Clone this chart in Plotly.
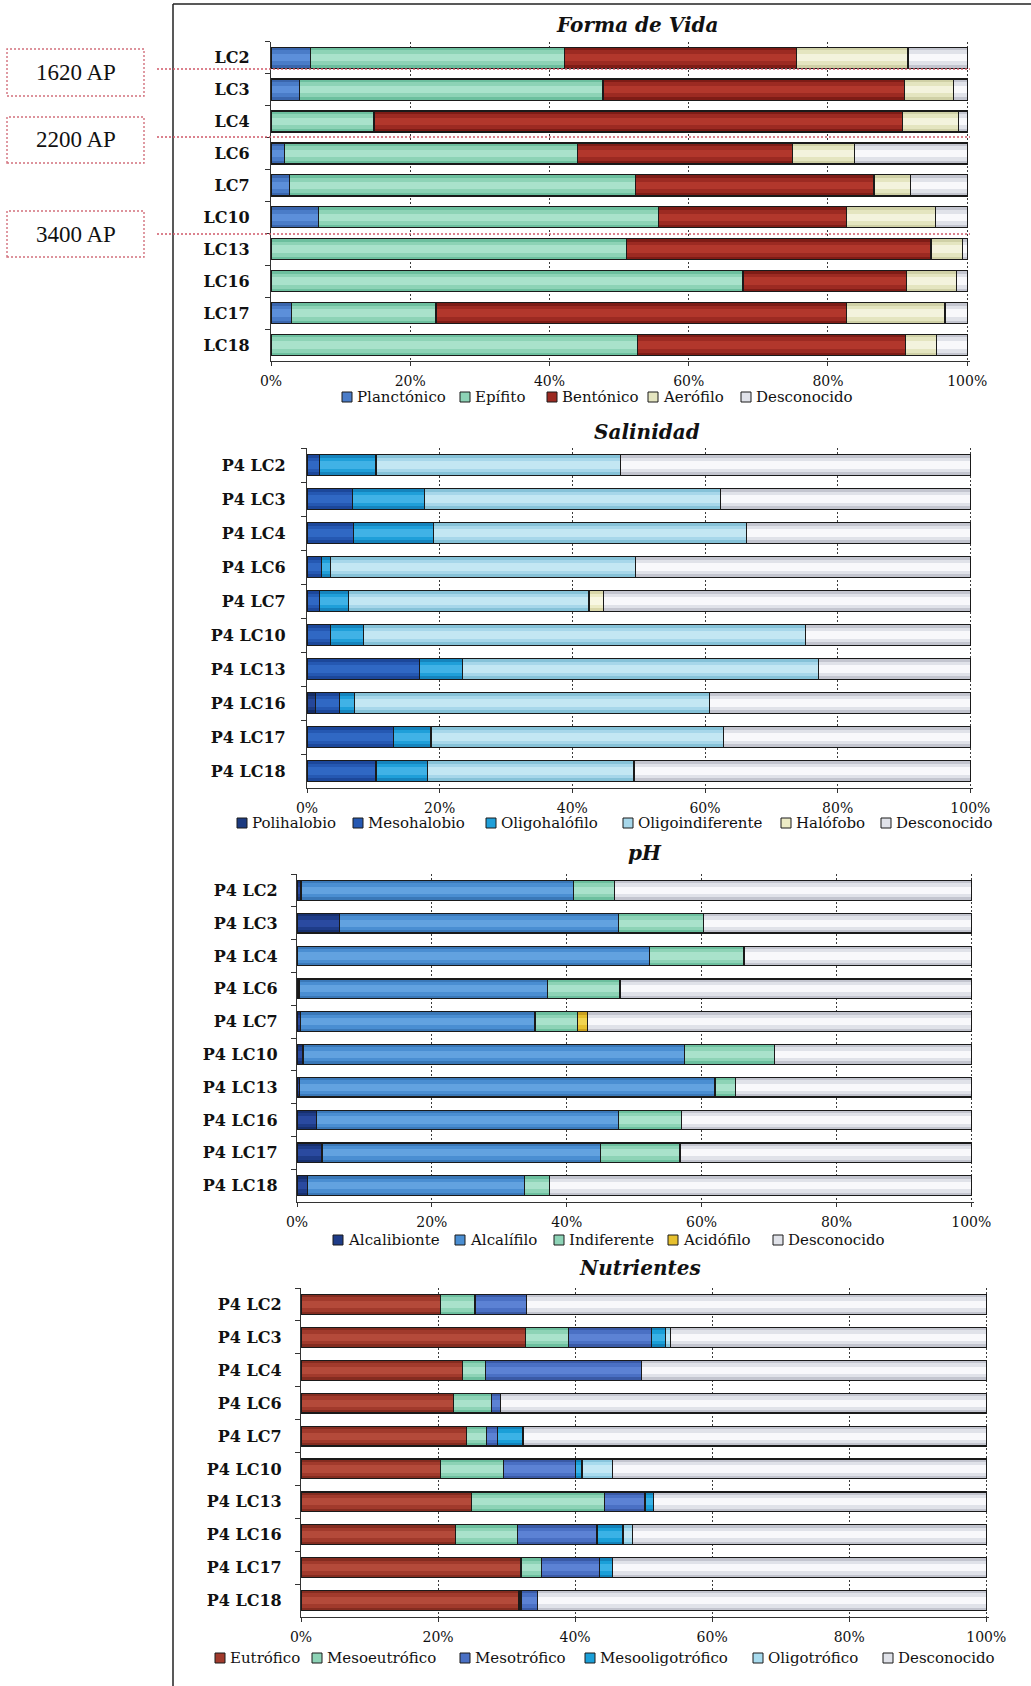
import plotly.graph_objects as go

W, H = 1031, 1686

# ---------------- data ----------------
# Forma de Vida
vida_cats = ["LC2", "LC3", "LC4", "LC6", "LC7", "LC10", "LC13", "LC16", "LC17", "LC18"]
planctonico = [5.7, 4.1, 0, 1.9, 2.7, 6.8, 0, 0, 3.0, 0]
epifito = [36.5, 43.6, 14.8, 42.1, 49.6, 48.8, 51.1, 67.8, 20.7, 52.6]
bentonico = [33.3, 43.3, 75.9, 30.9, 34.3, 27.1, 43.7, 23.5, 59.0, 38.5]
aerofilo = [16.0, 7.0, 8.1, 8.9, 5.3, 12.7, 4.5, 7.2, 14.1, 4.5]
desconocido_vida = [8.5, 2.0, 1.2, 16.2, 8.1, 4.6, 0.7, 1.5, 3.2, 4.4]

# Salinidad / pH / Nutrientes share the same samples
muestras = ["P4 LC2", "P4 LC3", "P4 LC4", "P4 LC6", "P4 LC7",
            "P4 LC10", "P4 LC13", "P4 LC16", "P4 LC17", "P4 LC18"]

polihalobio = [0, 0, 0, 0, 0, 0, 0, 1.3, 0, 0]
mesohalobio = [1.9, 6.8, 7.0, 2.2, 1.9, 3.6, 16.9, 3.6, 13.0, 10.4]
oligohalofilo = [8.5, 10.9, 12.1, 1.4, 4.4, 4.9, 6.6, 2.3, 5.7, 7.8]
oligoindiferente = [36.8, 44.6, 47.1, 45.9, 36.2, 66.7, 53.6, 53.5, 44.1, 31.1]
halofobo = [0, 0, 0, 0, 2.2, 0, 0, 0, 0, 0]
desconocido_sal = [52.8, 37.7, 33.8, 50.5, 55.3, 24.8, 22.9, 39.3, 37.2, 50.7]

alcalibionte = [0.6, 6.3, 0, 0.3, 0.5, 0.9, 0.4, 2.9, 3.7, 1.5]
alcalifilo = [40.4, 41.4, 52.3, 36.8, 34.8, 56.6, 61.6, 44.8, 41.3, 32.2]
indiferente = [6.1, 12.6, 14.0, 10.8, 6.3, 13.3, 3.0, 9.3, 11.8, 3.7]
acidofilo = [0, 0, 0, 0, 1.5, 0, 0, 0, 0, 0]
desconocido_ph = [52.9, 39.7, 33.7, 52.1, 56.9, 29.2, 35.0, 43.0, 43.2, 62.6]

eutrofico = [20.4, 32.8, 23.6, 22.2, 24.2, 20.3, 24.9, 22.6, 32.1, 31.8]
mesoeutrofico = [5.0, 6.2, 3.3, 5.6, 2.9, 9.3, 19.4, 9.0, 3.0, 0.3]
mesotrofico = [7.5, 12.2, 22.8, 1.3, 1.6, 10.5, 5.9, 11.6, 8.5, 2.4]
mesooligotrofico = [0, 2.0, 0, 0, 3.7, 0.9, 1.2, 3.8, 1.9, 0]
oligotrofico = [0, 0.7, 0, 0, 0, 4.4, 0, 1.4, 0, 0]
desconocido_nut = [67.1, 46.1, 50.3, 70.9, 67.6, 54.6, 48.6, 51.6, 54.5, 65.5]

x_ticks = [0, 20, 40, 60, 80, 100]
x_ticktext = ["0%", "20%", "40%", "60%", "80%", "100%"]

# ---------------- colours: (edge, mid, centre) of each shaded bar ----------------
MINT = ("#6cbf9e", "#8dd3b6", "#a9e2cb")
UNK = ("#c3c5cf", "#e0e2e9", "#f8f8fb")
PAL = {
    "Planctónico": ("#3a66ad", "#4a7cc8", "#5c8fda"),
    "Epífito": MINT,
    "Bentónico": ("#7e1c16", "#9c2a22", "#b2372c"),
    "Aerófilo": ("#cfd0a6", "#e4e5c0", "#f3f3dd"),
    "Polihalobio": ("#142c66", "#1c3a80", "#25479a"),
    "Mesohalobio": ("#1c479a", "#2558b2", "#3068c4"),
    "Oligohalófilo": ("#1584bd", "#1f9fd9", "#40b2e6"),
    "Oligoindiferente": ("#86c2d8", "#a7d7ea", "#c3e7f3"),
    "Halófobo": ("#d8d6a8", "#ecebc6", "#f8f7e2"),
    "Alcalibionte": ("#17306e", "#1e3c88", "#2a4aa0"),
    "Alcalífilo": ("#3a78b8", "#4a8ed2", "#62a2e0"),
    "Indiferente": MINT,
    "Acidófilo": ("#c9a020", "#e6c02e", "#f2d450"),
    "Eutrófico": ("#842c20", "#a13a2c", "#b44a3a"),
    "Mesoeutrófico": MINT,
    "Mesotrófico": ("#3a5aa6", "#4a70c4", "#5c82d4"),
    "Mesooligotrófico": ("#1282ba", "#1a9fd8", "#3ab2e6"),
    "Oligotrófico": ("#88c4dc", "#a8dbee", "#c4e8f5"),
    "Desconocido": UNK,
}

panels = [
    dict(title="Forma de Vida", cats=vida_cats, bw=0.66,
         series=[("Planctónico", planctonico), ("Epífito", epifito),
                 ("Bentónico", bentonico), ("Aerófilo", aerofilo),
                 ("Desconocido", desconocido_vida)],
         xpx=(271, 970), ypx=(41.7, 361), title_at=(637, 25), standoff=17,
         leg_y=397, leg_x=[342, 460, 547, 648, 741]),
    dict(title="Salinidad", cats=muestras, bw=0.61,
         series=[("Polihalobio", polihalobio), ("Mesohalobio", mesohalobio),
                 ("Oligohalófilo", oligohalofilo),
                 ("Oligoindiferente", oligoindiferente),
                 ("Halófobo", halofobo), ("Desconocido", desconocido_sal)],
         xpx=(307, 973), ypx=(448, 788), title_at=(647, 432), standoff=17,
         leg_y=823, leg_x=[237, 353, 486, 623, 781, 881]),
    dict(title="pH", cats=muestras, bw=0.6,
         series=[("Alcalibionte", alcalibionte), ("Alcalífilo", alcalifilo),
                 ("Indiferente", indiferente), ("Acidófilo", acidofilo),
                 ("Desconocido", desconocido_ph)],
         xpx=(297, 974), ypx=(874, 1202), title_at=(645, 853), standoff=15,
         leg_y=1240, leg_x=[333, 455, 554, 668, 773]),
    dict(title="Nutrientes", cats=muestras, bw=0.6,
         series=[("Eutrófico", eutrofico), ("Mesoeutrófico", mesoeutrofico),
                 ("Mesotrófico", mesotrofico),
                 ("Mesooligotrófico", mesooligotrofico),
                 ("Oligotrófico", oligotrofico), ("Desconocido", desconocido_nut)],
         xpx=(301, 989), ypx=(1288, 1617), title_at=(640, 1268), standoff=15,
         leg_y=1658, leg_x=[215, 312, 460, 585, 753, 883]),
]


def px(x):
    return x / W


def py(y):
    return 1 - y / H


SERIF = "DejaVu Serif"
EDGE = "#1a1a1a"
AXIS = "#333333"
XRANGE = [0, 100.4]

fig = go.Figure()
shapes, annotations = [], []
layout_axes = {}

for i, p in enumerate(panels, start=1):
    sx = "" if i == 1 else str(i)
    xa, ya = "x" + sx, "y" + sx
    bw = p["bw"]

    # shaded stacked bars: edge tone underneath, lighter mid and centre
    # bands on overlaid axes, then the black outlines on top
    layers = [(xa, ya, 1.0, "edge")]
    for k, (frac, kind) in enumerate([(0.72, "mid"), (0.36, "centre"), (1.0, "outline")], start=1):
        n = 4 + (i - 1) * 3 + k
        layers.append(("x%d" % n, "y%d" % n, frac, kind))
        layout_axes["xaxis%d" % n] = dict(overlaying=xa, anchor="y%d" % n,
                                          range=XRANGE, visible=False, showgrid=False,
                                          fixedrange=True, automargin=False)
        layout_axes["yaxis%d" % n] = dict(overlaying=ya, anchor="x%d" % n,
                                          type="category", autorange="reversed",
                                          visible=False, showgrid=False,
                                          fixedrange=True, automargin=False)

    for lx_, ly_, frac, kind in layers:
        for name, vals in p["series"]:
            edge, mid, centre = PAL[name]
            if kind == "outline":
                marker = dict(color="rgba(0,0,0,0)", line=dict(color=EDGE, width=1.2))
            else:
                col = {"edge": edge, "mid": mid, "centre": centre}[kind]
                marker = dict(color=col, line=dict(width=0))
            trace = dict(
                y=p["cats"], x=[v if v else None for v in vals], orientation="h",
                name=name, width=bw * frac, xaxis=lx_, yaxis=ly_, showlegend=False,
                marker=marker,
            )
            if kind == "edge":
                trace["hovertemplate"] = name + ": %{x:.1f}%<extra>%{y}</extra>"
            else:
                trace["hoverinfo"] = "skip"
            fig.add_trace(go.Bar(**trace))

    layout_axes["xaxis" + sx] = dict(
        domain=[px(p["xpx"][0]), px(p["xpx"][1])], anchor=ya,
        range=XRANGE, tickmode="array", tickvals=x_ticks, ticktext=x_ticktext,
        showgrid=True, gridcolor="#3a3a3a", griddash="2px,2px", gridwidth=1.4,
        zeroline=False, showline=True, linecolor=AXIS, linewidth=1.2,
        ticks="outside", ticklen=4, tickcolor=AXIS, tickwidth=1.2,
        tickfont=dict(family=SERIF, size=14, color="#111111"),
        ticklabelstandoff=3, fixedrange=True, automargin=False,
    )
    layout_axes["yaxis" + sx] = dict(
        domain=[py(p["ypx"][1]), py(p["ypx"][0])], anchor=xa,
        type="category", autorange="reversed",
        showgrid=False, zeroline=False, showline=True,
        linecolor=AXIS, linewidth=1.2,
        ticks="outside", tickson="boundaries", ticklen=5, tickcolor=AXIS, tickwidth=1.2,
        tickfont=dict(family=SERIF, size=16, color="#111111", weight="bold"),
        ticklabelstandoff=p["standoff"], fixedrange=True, automargin=False,
    )

    # panel title
    tx, ty = p["title_at"]
    annotations.append(dict(
        x=px(tx), y=py(ty), xref="paper", yref="paper", showarrow=False,
        text="<b><i>%s</i></b>" % p["title"], xanchor="center", yanchor="middle",
        font=dict(family=SERIF, size=20, color="#111111"),
    ))

    # legend row: swatch + label
    for (name, vals), lx in zip(p["series"], p["leg_x"]):
        ly = p["leg_y"]
        shapes.append(dict(
            type="rect", xref="paper", yref="paper",
            x0=px(lx), x1=px(lx + 10), y0=py(ly + 5), y1=py(ly - 5),
            fillcolor=PAL[name][1], line=dict(color=EDGE, width=1),
        ))
        annotations.append(dict(
            x=px(lx + 13), y=py(ly), xref="paper", yref="paper", showarrow=False,
            text=name, xanchor="left", yanchor="middle",
            font=dict(family=SERIF, size=15, color="#111111"),
        ))

# frame around the figure block (left and top edges)
shapes.append(dict(type="line", xref="paper", yref="paper",
                   x0=px(173), x1=px(173), y0=py(4), y1=0,
                   line=dict(color="#222222", width=1.5)))
shapes.append(dict(type="line", xref="paper", yref="paper",
                   x0=px(173), x1=1, y0=py(4), y1=py(4),
                   line=dict(color="#222222", width=1.5)))

# age boxes and their dotted guide lines across the first panel
edades = ["1620 AP", "2200 AP", "3400 AP"]
box_rows = [(49, 96), (117, 163), (211, 257)]
guide_y = [69, 137, 234]
for label, (b0, b1), gy in zip(edades, box_rows, guide_y):
    shapes.append(dict(type="rect", xref="paper", yref="paper",
                       x0=px(7), x1=px(144), y0=py(b1), y1=py(b0),
                       fillcolor="white",
                       line=dict(color="#d2707c", width=1.4, dash="2px,2px")))
    shapes.append(dict(type="line", xref="paper", yref="paper",
                       x0=px(157), x1=px(970), y0=py(gy), y1=py(gy),
                       line=dict(color="#cf5868", width=1.6, dash="2px,2px")))
    annotations.append(dict(
        x=px(75.5), y=py((b0 + b1) / 2), xref="paper", yref="paper",
        showarrow=False, text=label, xanchor="center", yanchor="middle",
        font=dict(family="Liberation Serif", size=23, color="#111111"),
    ))

fig.update_layout(
    width=W, height=H, margin=dict(l=0, r=0, t=0, b=0, autoexpand=False),
    paper_bgcolor="white", plot_bgcolor="white",
    barmode="stack", showlegend=False,
    shapes=shapes, annotations=annotations,
    **layout_axes,
)

fig.write_html("out.html")
